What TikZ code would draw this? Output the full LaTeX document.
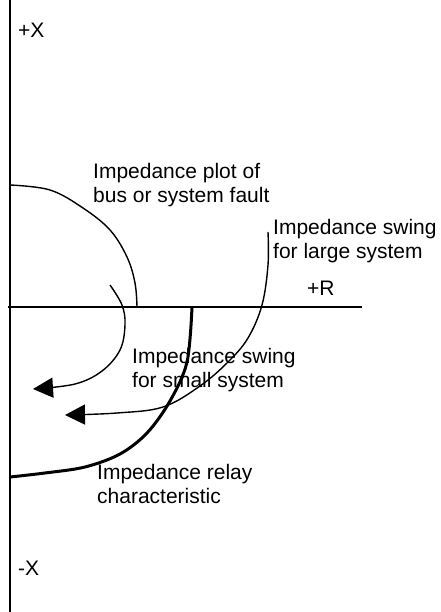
\documentclass[tikz,border=0pt]{standalone}
\usepackage{fontspec}
\setmainfont{Liberation Sans}
\usetikzlibrary{arrows.meta}

\begin{document}
\begin{tikzpicture}[x=1pt,y=-1pt,>={Triangle[length=20pt,width=20pt]},
  lbl/.style={anchor=base west,inner sep=0pt,align=left,font=\fontsize{21}{24}\selectfont},
  axisline/.style={line width=2pt},
  curve/.style={line width=1.4pt}]
\useasboundingbox (0,0) rectangle (440,612);
% Axes of the R-X plane.
\coordinate (top) at (10,0);
\coordinate (bottom) at (10,612);
\coordinate (left) at (8,307);
\coordinate (right) at (362,307);
\draw[axisline] (top)--(bottom);
\draw[axisline] (left)--(right);
\node[lbl] (posx) at (18,38) {+X};
\node[lbl] (negx) at (18,575) {-X};
\node[lbl] (posr) at (307,295) {+R};
% Locus of a bus or system fault.
\draw[curve] plot[smooth,tension=0.6] coordinates
  {(10,185) (50,190) (83,208) (110,230) (127,257) (135,283) (137,307)};
% Swings for the small and the large system.
\draw[curve,->] plot[smooth,tension=0.6] coordinates
  {(110,285) (122,305) (125,325) (120,350) (102,371) (75,384) (33,389)};
\draw[curve,->] plot[smooth,tension=0.6] coordinates
  {(268,232) (268,265) (262,305) (248,338) (228,362) (200,386) (163,407) (117,413) (65,415)};
% Relay characteristic, drawn heavier.
\draw[line width=3pt] plot[smooth,tension=0.55] coordinates
  {(192,307) (187,362) (170,401) (147,433) (120,454) (85,467) (45,473) (10,477)};
% Labels (base anchor sits on the last line).
\node[lbl] (fault) at (93,203) {Impedance plot of\\bus or system fault};
\node[lbl] (large) at (273,258) {Impedance swing\\for large system};
\node[lbl] (small) at (132,387) {Impedance swing\\for small system};
\node[lbl] (relay) at (97,503) {Impedance relay\\characteristic};
\end{tikzpicture}
\end{document}
